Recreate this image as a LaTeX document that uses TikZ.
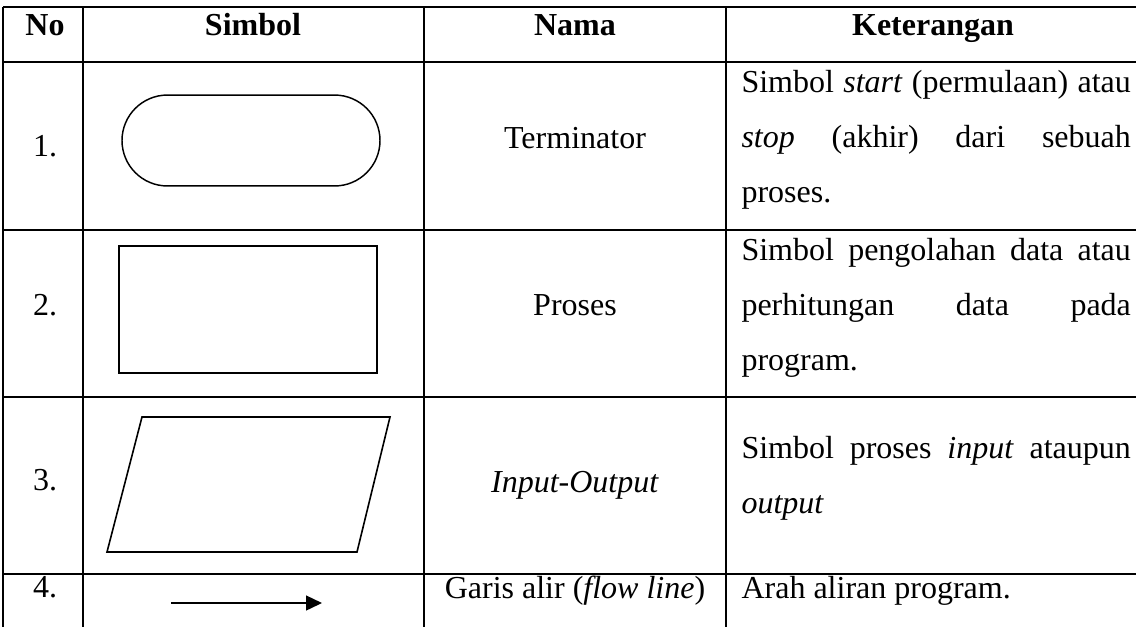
\documentclass[tikz,border=0pt]{standalone}
\usepackage{fontspec}
\setmainfont{Liberation Serif}
\usepackage{tikz}
\usetikzlibrary{shapes,arrows.meta,calc,positioning}

\tikzset{
  every node/.style={font=\fontsize{12}{20.8}\selectfont},
  grid/.style={line width=0.75pt},
  symbol/.style={draw, line width=0.55pt, inner sep=0pt},
  cell/.style={anchor=base, inner sep=0pt},
  desc/.style={anchor=base west, inner sep=0pt, text width=146pt, align=justify},
}

\begin{document}
\begin{tikzpicture}[x=0.375pt, y=-0.375pt]
  \useasboundingbox (0,0) rectangle (1136,627);
  \foreach \y in {7,62,230,397,574}
    \draw [grid] (3,\y) -- (1136,\y);
  \foreach \x in {3,83,424,726}
    \draw [grid] (\x,7) -- (\x,627);

  \node [cell] at (45,35) (hno) {\textbf{No}};
  \node [cell] at (253,35) (hsim) {\textbf{Simbol}};
  \node [cell] at (575,35) (hnama) {\textbf{Nama}};
  \node [cell] at (933,35) (hket) {\textbf{Keterangan}};

  \node [cell] at (45,156) (no1) {1.};
  \node [symbol, shape=rounded rectangle, minimum width=96.75pt, minimum height=34.1pt] at (251,140.5) (term) {};
  \node [cell] at (575,148) (nama1) {Terminator};
  \node [desc] at (741,92) (ket1) {Simbol \textit{start} (permulaan) atau\linebreak \textit{stop} (akhir) dari sebuah\linebreak proses.};

  \node [cell] at (45,315) (no2) {2.};
  \node [symbol, minimum width=96.75pt, minimum height=47.6pt] at (248,309.5) (proc) {};
  \node [cell] at (575,315) (nama2) {Proses};
  \node [desc] at (741,260) (ket2) {Simbol pengolahan data atau\linebreak perhitungan data pada\linebreak program.};

  \node [cell] at (45,490) (no3) {3.};
  \draw [line width=0.6pt] (142,417) -- (390,417) -- (357,552) -- (107,552) -- cycle;
  \node [cell] at (575,492) (nama3) {\textit{Input-Output}};
  \node [desc] at (741,458) (ket3) {Simbol proses \textit{input} ataupun\linebreak \textit{output}};

  \node [cell] at (45,597) (no4) {4.};
  \coordinate (fa) at (171,603);
  \coordinate (fb) at (322,603);
  \draw [-{Triangle[length=6pt, width=5.6pt]}, line width=0.6pt] (fa) -- (fb);
  \node [cell] at (575,598) (nama4) {Garis alir (\textit{flow line})};
  \node [desc] at (741,598) (ket4) {Arah aliran program.};
\end{tikzpicture}
\end{document}
